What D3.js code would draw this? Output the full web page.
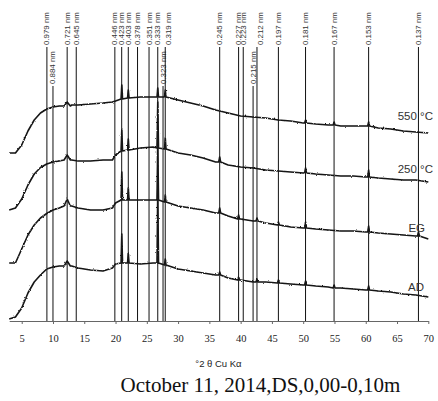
<!DOCTYPE html>
<html><head><meta charset="utf-8">
<script src="https://cdn.jsdelivr.net/npm/d3@7"></script>
<style>
html,body{margin:0;padding:0;background:#fff;}
svg{display:block;}
</style></head>
<body>
<svg id="chart" width="438" height="401"></svg>
<script>
// ---- data ----
const twoTheta = [3,4,5,6,7,8,9,10,11,12,13,14,16,18,19.5,20,21,22,24,26,28,30,32,34,36,38,40,42,44,46,48,50,52,54,56,58,60,62,64,66,68,70];
const s550 = [168,168,176,190,201,208,212,214,215,215,216,216,217,218,219,220,222,223,224,224,224,221,218,215,211,208,205,204,203,201,200,198,197,196,195,195,195,193,192,190,189,188];
const s250 = [111,113,122,136,147,153.5,157,159,160,162,161,160,160,161,161,166,170,171,173,174,171,168,166,163,159,156,154,153,151,150,149,148,147,146,145,145,144,143,142,141,141,139];
const sEG  = [58,58,72,86,96,103,107.5,111,113,115,115,113,111,111,113,118,121,121,121,121,118,115,113,111,108,105,102,100,98,96,94,93,92,91,90,90,89,88,87,86,85,82];
const sAD  = [2,4,13,28,39,46,52,54,55,55,55,53,51,50,53,57,58,58,57,58,55,52,50,48,46,43,41,39,39,38,37,36,35,34,33,32,31,30,29,27,26,24];
// peaks: [2theta, base, top, half-width]
const p550 = [[12.27,215,219,0.5],[21.0,222,236,0.12],[22.04,223,231,0.12],[26.75,224,233,0.12],[27.95,224,231,0.12],[50.38,198,201,0.15],[54.94,196,199,0.15],[60.46,195,199,0.15]];
const p250 = [[12.27,161,166,0.5],[21.0,170,191,0.12],[22.04,171,182,0.12],[26.75,173,219,0.12],[27.95,172,183,0.12],[36.65,159,164,0.15],[50.38,148,153,0.15],[60.46,144,151,0.15]];
const pEG  = [[12.27,115,122,0.5],[21.0,121,149,0.12],[22.04,121,133,0.12],[26.75,121,181,0.12],[27.95,119,126,0.12],[36.65,108,113,0.15],[39.67,102,106,0.15],[42.61,100,103,0.15],[46.04,96,99,0.15],[50.38,93,99,0.15],[60.46,89,95,0.15],[68.43,85,89,0.15]];
const pAD  = [[12.27,55,60,0.5],[21.0,58,87,0.12],[22.04,58,68,0.12],[26.75,58,131,0.12],[27.95,56,62,0.12],[36.65,46,49,0.15],[39.67,41,44,0.15],[42.61,39,42,0.15],[46.04,38,41,0.15],[50.38,36,40,0.15],[54.94,33,36,0.15],[60.46,31,35,0.15]];
const seriesNames = ["550 °C","250 °C","EG","AD"];
const dSpacings = [0.979,0.884,0.721,0.645,0.446,0.423,0.403,0.378,0.351,0.333,0.323,0.319,0.245,0.227,0.223,0.215,0.212,0.197,0.181,0.167,0.153,0.137];
const staggered = [0.884,0.323,0.215];
const xTicks = [5,10,15,20,25,30,35,40,45,50,55,60,65,70];
const xLabel = "°2 θ Cu Kα";
const title = "October 11, 2014,DS,0,00-0,10m";

// ---- layout ----
const lambda = 1.5406; // Cu K-alpha, Angstrom
const svg = d3.select("#chart");
const x = d3.scaleLinear().domain([3,70]).range([9.2,428.3]);
const y = d3.scaleLinear().domain([0,321]).range([321,0]);
const labelPos = [[433,120],[433,173],[425,232],[424,291]];

// roughness filter to mimic the noisy recorded traces
const defs = svg.append("defs");
const f = defs.append("filter").attr("id","rough").attr("filterUnits","userSpaceOnUse")
  .attr("x",0).attr("y",0).attr("width",438).attr("height",401);
f.append("feTurbulence").attr("type","fractalNoise").attr("baseFrequency","0.9 0.6")
  .attr("numOctaves",2).attr("seed",3).attr("result","n");
f.append("feDisplacementMap").attr("in","SourceGraphic").attr("in2","n")
  .attr("scale",2.2).attr("xChannelSelector","R").attr("yChannelSelector","G");

// reference lines
const refs = dSpacings.map(d => ({d, t: 2*Math.asin(lambda/(2*d*10))*180/Math.PI}));
const g = svg.append("g");
refs.forEach((r,i) => {
  const xp = x(r.t);
  const top = staggered.includes(r.d) ? 86 : 47;
  g.append("line").attr("x1",xp).attr("x2",xp).attr("y1",y(0)).attr("y2",top)
    .attr("stroke","#111").attr("stroke-width",1);
  const dx = (i>0 && xp - x(refs[i-1].t) < 4) ? 3.5 : 0;
  g.append("text")
    .attr("transform",`translate(${xp+dx},${top-2}) rotate(-90)`)
    .attr("text-anchor","start").attr("dominant-baseline","central")
    .attr("font-family","Liberation Sans, Arial, sans-serif").attr("font-size",7.9)
    .attr("fill","#333").text(r.d.toFixed(3)+" nm");
});

// curves
function build(base, peaks){
  const pts = [];
  twoTheta.forEach((t,i) => {
    if (!peaks.some(p => Math.abs(p[0]-t) < p[3]+0.1)) pts.push([t, base[i]]);
  });
  peaks.forEach(p => { pts.push([p[0]-p[3],p[1]]); pts.push([p[0],p[2]]); pts.push([p[0]+p[3],p[1]]); });
  return pts.sort((a,b)=>a[0]-b[0]);
}
const line = d3.line().x(d=>x(d[0])).y(d=>y(d[1]));
const cg = svg.append("g").attr("filter","url(#rough)");
[[s550,p550],[s250,p250],[sEG,pEG],[sAD,pAD]].forEach(([s,p],i) => {
  cg.append("path").attr("d", line(build(s,p))).attr("fill","none")
    .attr("stroke","#141414").attr("stroke-width",1.6).attr("stroke-linejoin","round");
  svg.append("text").attr("x",labelPos[i][0]).attr("y",labelPos[i][1])
    .attr("text-anchor","end").attr("font-family","Liberation Sans, Arial, sans-serif")
    .attr("font-size",11.5).attr("fill","#333").text(seriesNames[i]);
});

// axis
const ax = svg.append("g").attr("transform",`translate(0,${y(0)})`)
  .call(d3.axisBottom(x).tickValues(xTicks).tickSize(3).tickSizeOuter(0).tickPadding(10.5));
ax.select(".domain").attr("stroke","#666");
ax.selectAll(".tick line").attr("stroke","#666");
ax.selectAll(".tick text").attr("font-family","Liberation Serif, Times New Roman, serif")
  .attr("font-size",10.5).attr("fill","#222");

svg.append("text").attr("x",218.5).attr("y",367).attr("text-anchor","middle")
  .attr("font-family","Liberation Sans, Arial, sans-serif").attr("font-size",9.5)
  .attr("fill","#222").text(xLabel);
svg.append("text").attr("x",260.5).attr("y",392).attr("text-anchor","middle")
  .attr("font-family","Liberation Serif, Times New Roman, serif").attr("font-size",21)
  .attr("fill","#111").text(title);
</script>
</body></html>
